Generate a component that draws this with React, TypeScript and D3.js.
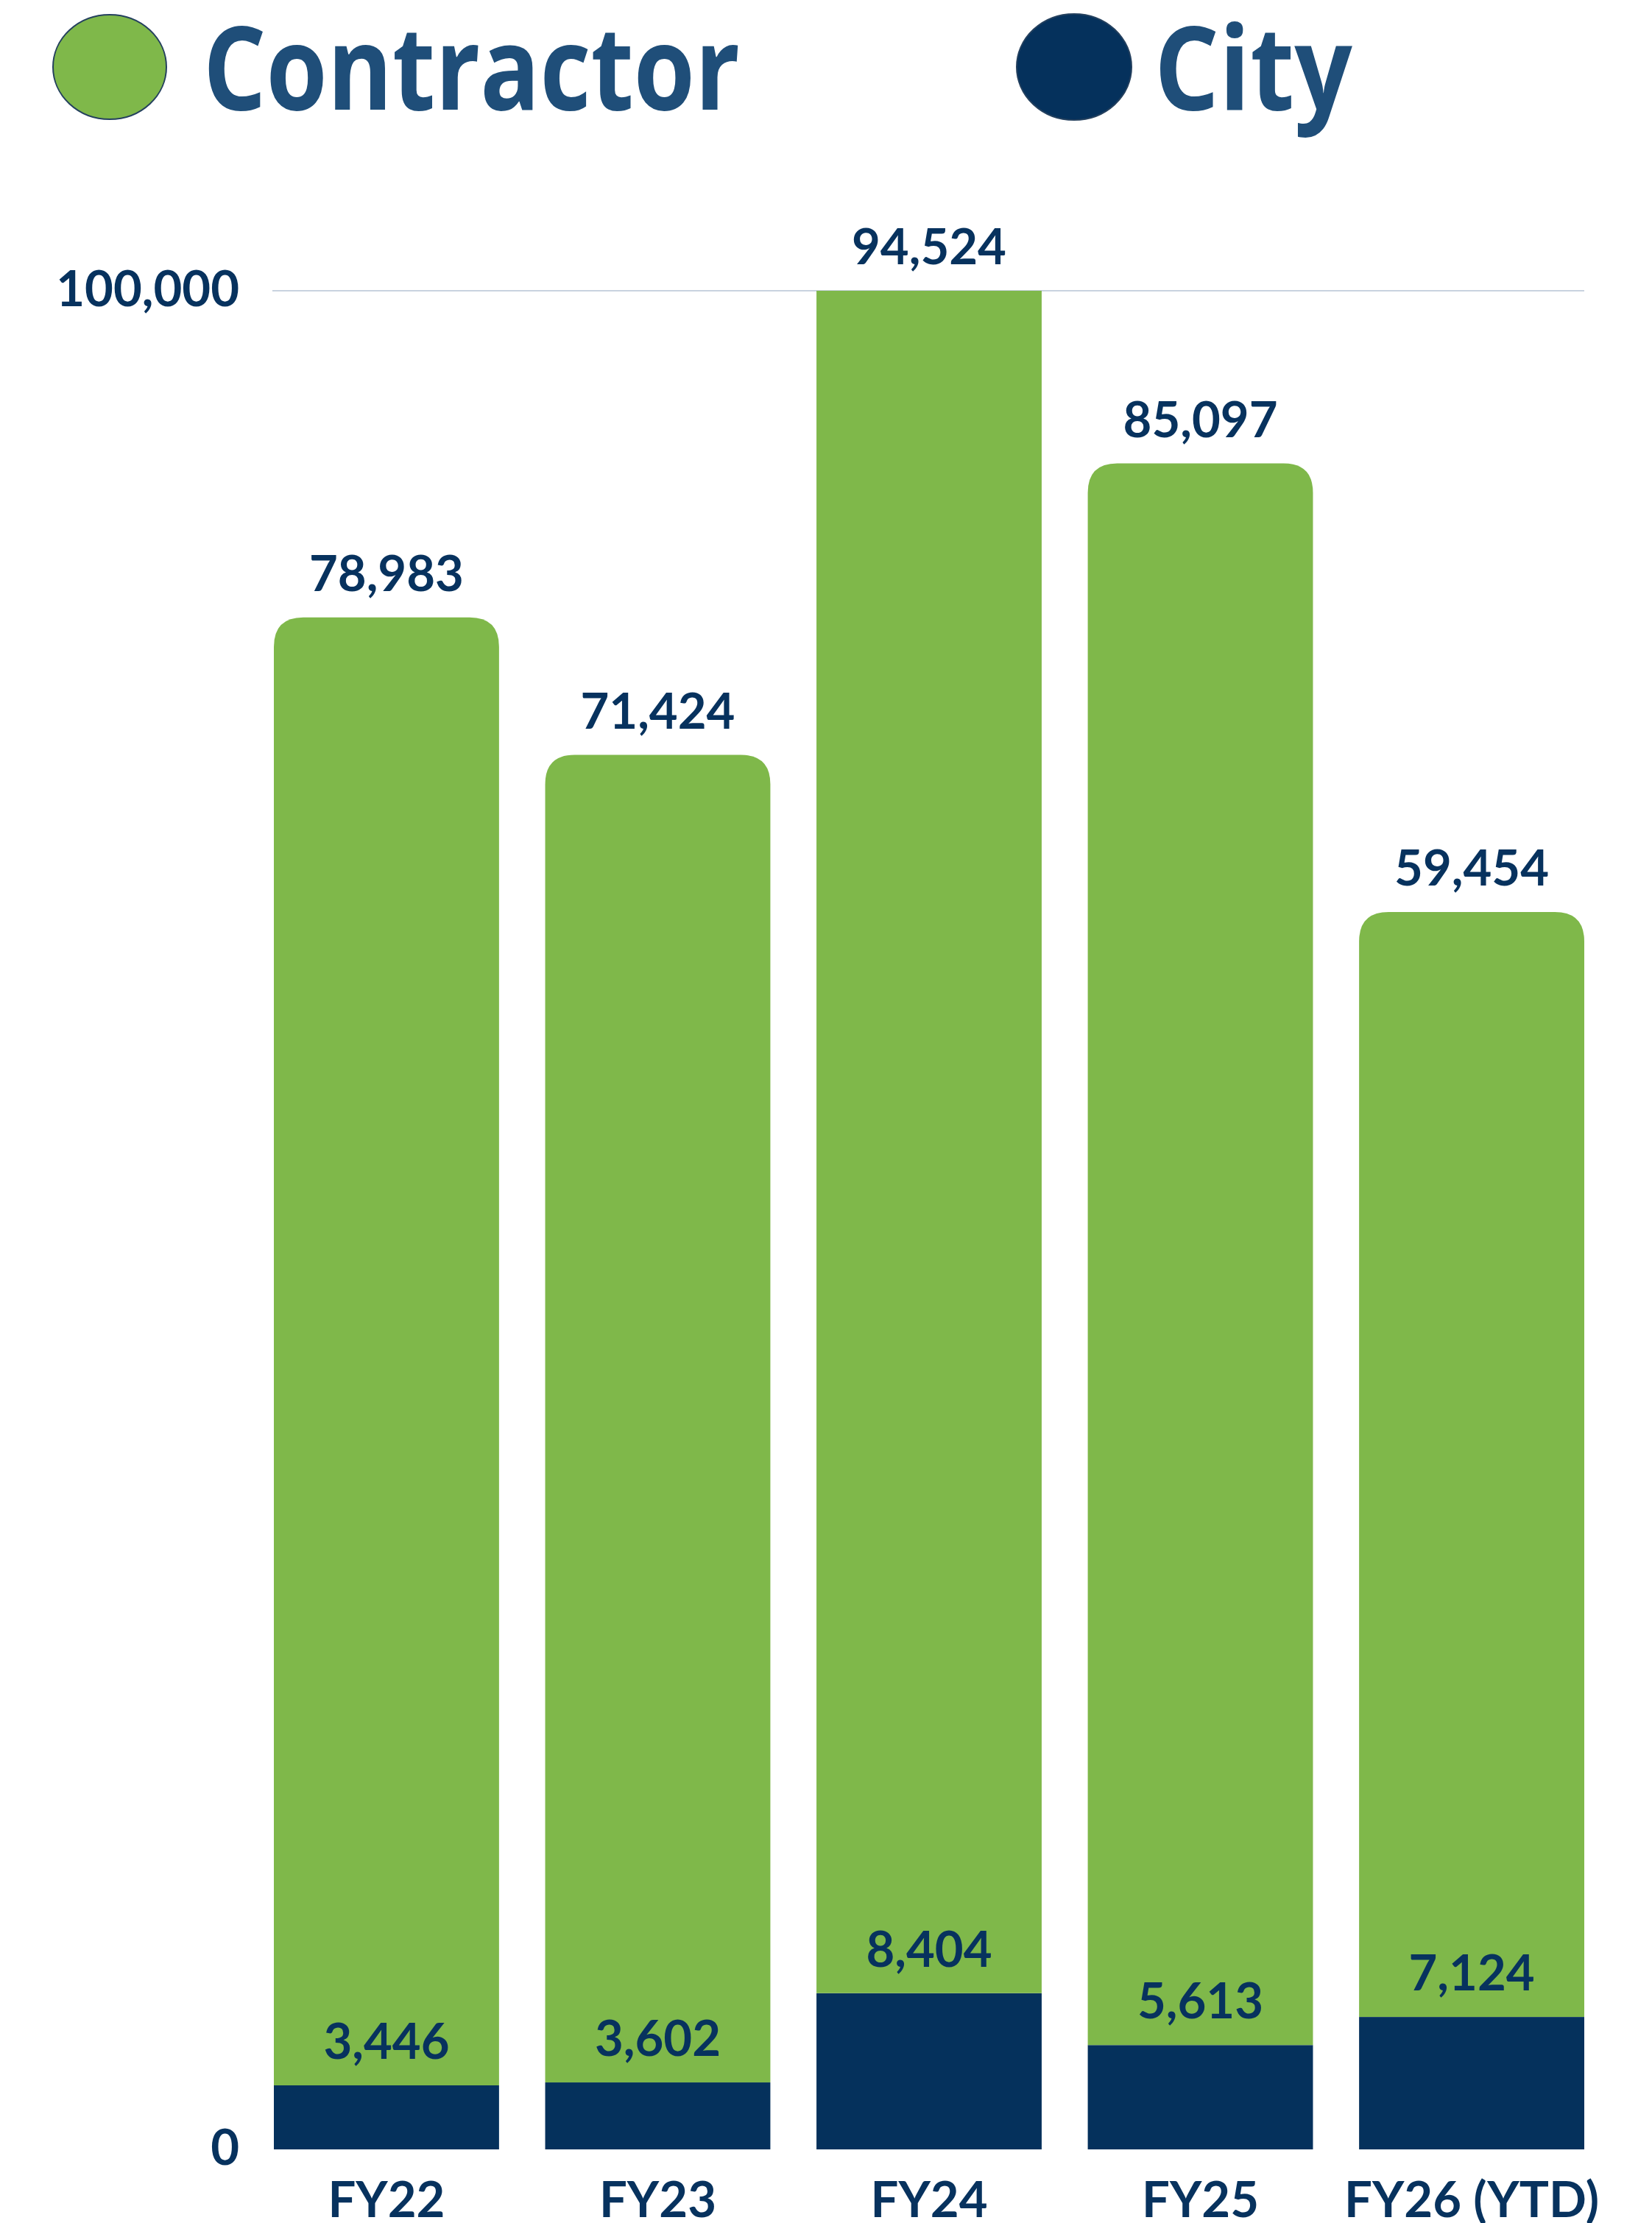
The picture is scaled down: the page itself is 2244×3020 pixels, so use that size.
import React from "react";
import * as d3 from "d3";

const categories = ["FY22", "FY23", "FY24", "FY25", "FY26 (YTD)"];
const cityValues = [3446, 3602, 8404, 5613, 7124];
const contractorValues = [78983, 71424, 94524, 85097, 59454];
const yTicks = [0, 100000];
const legendLabels = ["Contractor", "City"];

const W = 2244;
const H = 3020;
const GREEN = "#7fb84a";
const NAVY = "#05315c";
const LEGEND_TEXT = "#1f4e79";
const LABEL = "#07325e";

function roundedTop(x: number, y: number, w: number, h: number, r: number) {
  const rr = Math.min(r, w / 2, h);
  return `M${x},${y + h}V${y + rr}Q${x},${y} ${x + rr},${y}H${x + w - rr}Q${x + w},${y} ${x + w},${y + rr}V${y + h}Z`;
}

export default function App() {
  const x = d3.scaleBand<string>().domain(categories).range([372, 2152]).paddingInner(0.17).paddingOuter(0);
  const y = d3.scaleLinear().domain([0, 100000]).range([2920, 395]);
  const rows = categories.map((c, i) => ({ cat: c, city: cityValues[i], contractor: contractorValues[i] }));
  const stack = d3.stack<any>().keys(["city", "contractor"]);
  const series = stack(rows);
  const fmt = d3.format(",");
  const bw = x.bandwidth();
  const top = y.range()[1];

  return (
    <svg width={W} height={H} style={{ position: "absolute", left: 0, top: 0, background: "#fff" }} fontFamily="Lato, 'Open Sans', sans-serif">
      <defs>
        <clipPath id="plotClip">
          <rect x={0} y={top} width={W} height={H - top} />
        </clipPath>
      </defs>
      {/* Legend */}
      <g>
        <ellipse cx={149} cy={91} rx={77} ry={71} fill={GREEN} stroke="#24405e" strokeWidth={2} />
        <text x={276} y={149} fontFamily="'Open Sans', Lato, sans-serif" fontWeight={700} fontSize={158} fill={LEGEND_TEXT} textLength={729} lengthAdjust="spacingAndGlyphs">{legendLabels[0]}</text>
        <ellipse cx={1459} cy={91} rx={78} ry={72} fill={NAVY} stroke="#24405e" strokeWidth={2} />
        <text x={1568} y={149} fontFamily="'Open Sans', Lato, sans-serif" fontWeight={700} fontSize={158} fill={LEGEND_TEXT} textLength={269} lengthAdjust="spacingAndGlyphs">{legendLabels[1]}</text>
      </g>
      {/* Gridlines */}
      {yTicks.filter((t) => t > 0).map((t) => (
        <line key={t} x1={370} x2={2152} y1={y(t)} y2={y(t)} stroke="#c8d2df" strokeWidth={2} />
      ))}
      {/* Y tick labels */}
      {yTicks.map((t) => (
        <text key={t} x={325} y={y(t) + 21} textAnchor="end" fontSize={67} fontWeight={700} fill={LABEL}>{fmt(t)}</text>
      ))}
      {/* Bars */}
      <g clipPath="url(#plotClip)">
        {series[0].map((d, i) => (
          <rect key={"c" + i} x={x(categories[i])} y={y(d[1])} width={bw} height={y(d[0]) - y(d[1])} fill={NAVY} />
        ))}
        {series[1].map((d, i) => (
          <path key={"k" + i} d={roundedTop(x(categories[i]) as number, y(d[1]), bw, y(d[0]) - y(d[1]), 40)} fill={GREEN} />
        ))}
      </g>
      {/* Value labels */}
      {series[1].map((d, i) => (
        <text key={"lk" + i} x={(x(categories[i]) as number) + bw / 2} y={Math.max(y(d[1]), top) - 36} textAnchor="middle" fontSize={67} fontWeight={700} fill={LABEL}>{fmt(contractorValues[i])}</text>
      ))}
      {series[0].map((d, i) => (
        <text key={"lc" + i} x={(x(categories[i]) as number) + bw / 2} y={y(d[1]) - 36} textAnchor="middle" fontSize={67} fontWeight={700} fill={LABEL}>{fmt(cityValues[i])}</text>
      ))}
      {/* X labels */}
      {categories.map((c) => (
        <text key={c} x={(x(c) as number) + bw / 2} y={3012} textAnchor="middle" fontSize={67} fontWeight={700} fill={LABEL}>{c}</text>
      ))}
    </svg>
  );
}
